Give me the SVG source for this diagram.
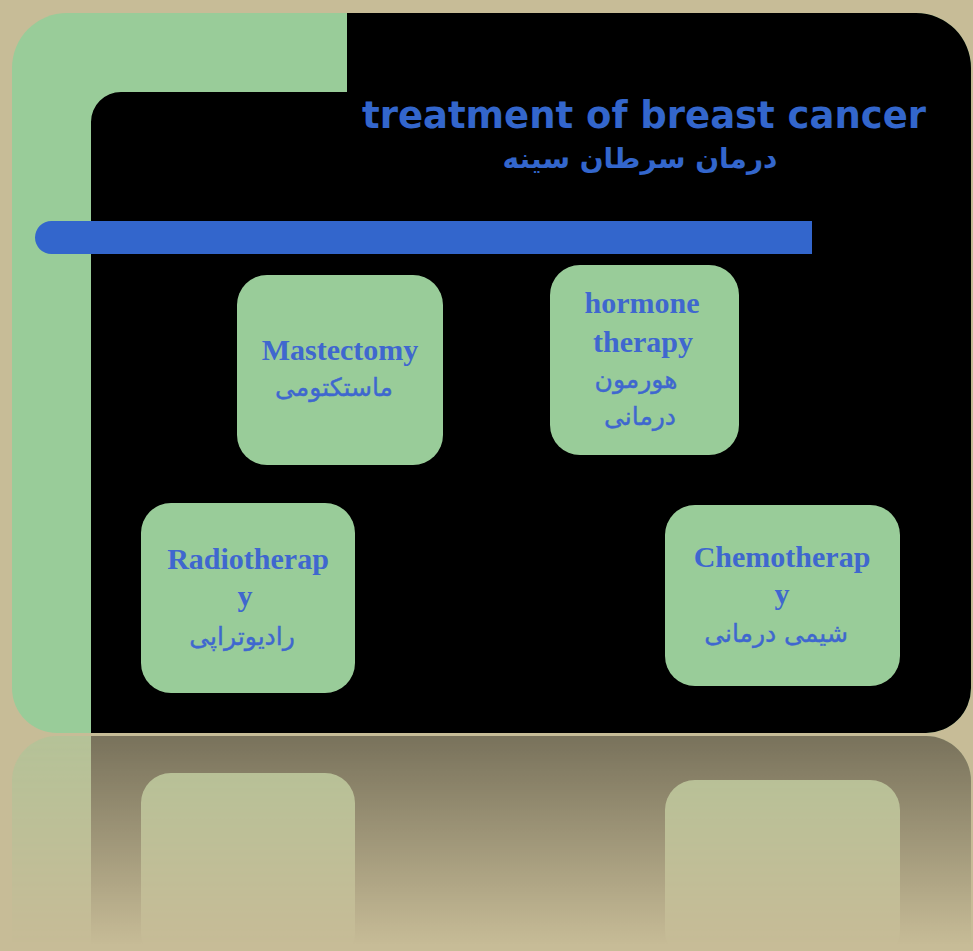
<svg xmlns="http://www.w3.org/2000/svg" width="973" height="951" viewBox="0 0 973 951">
<style>
.green{fill:#99cc99}
.black{fill:#000}
.box{fill:#99cc99}
.en{font-family:"Liberation Serif","Times New Roman",serif;font-weight:bold;font-size:30px;fill:#3f67cf;text-anchor:middle}
.fa{font-family:"DejaVu Sans","Noto Sans",sans-serif;font-size:25px;fill:#3f67cf;text-anchor:middle;stroke:#3f67cf;stroke-width:0.4}
.title{font-family:"DejaVu Sans","Liberation Sans",sans-serif;font-weight:bold;fill:#3366cc}
</style>
<defs>
<linearGradient id="fade" gradientUnits="userSpaceOnUse" x1="0" y1="733" x2="0" y2="945">
<stop offset="0" stop-color="#fff" stop-opacity="0.4"/>
<stop offset="0.5" stop-color="#fff" stop-opacity="0.2"/>
<stop offset="1" stop-color="#fff" stop-opacity="0"/>
</linearGradient>
<mask id="reflMask" maskUnits="userSpaceOnUse" x="0" y="733" width="973" height="218">
<rect x="0" y="733" width="973" height="218" fill="url(#fade)"/>
</mask>
</defs>
<rect x="0" y="0" width="973" height="951" fill="#c7bc97"/>
<g id="reflection" mask="url(#reflMask)">
<path class="green" d="M57 736 H926 A45 45 0 0 1 971 781 V951 H12 V781 A45 45 0 0 1 57 736 Z"/>
<path class="black" d="M91 736 H926 A45 45 0 0 1 971 781 V951 H91 Z"/>
<rect class="box" x="141" y="773" width="214" height="190" rx="30"/>
<rect class="box" x="665" y="780" width="235" height="181" rx="30"/>
</g>
<g id="slide">
<path class="green" d="M67 13 H916 A55 55 0 0 1 971 68 V688 A45 45 0 0 1 926 733 H57 A45 45 0 0 1 12 688 V68 A55 55 0 0 1 67 13 Z"/>
<path class="black" d="M347 13 H916 A55 55 0 0 1 971 68 V688 A45 45 0 0 1 926 733 H91 V122 A30 30 0 0 1 121 92 H347 Z"/>
<path fill="#3366cc" d="M51.5 221 H812 V254 H51.5 A16.5 16.5 0 0 1 51.5 221 Z"/>
</g>
<g id="title">
<text class="title" x="362" y="128" font-size="37" textLength="564" lengthAdjust="spacingAndGlyphs">treatment of breast cancer</text>
<text class="title" x="640" y="168" font-size="28" text-anchor="middle">درمان سرطان سینه</text>
</g>
<g id="mastectomy">
<rect class="box" x="237" y="275" width="206" height="190" rx="30"/>
<text class="en" x="340" y="360" font-size="32">Mastectomy</text>
<text class="fa" x="334" y="396" font-size="27">ماستکتومی</text>
</g>
<g id="hormone">
<rect class="box" x="550" y="265" width="189" height="190" rx="30"/>
<text class="en" x="642" y="313">hormone</text>
<text class="en" x="643" y="352">therapy</text>
<text class="fa" x="636" y="388" font-size="27">هورمون</text>
<text class="fa" x="640" y="425" font-size="26">درمانی</text>
</g>
<g id="radiotherapy">
<rect class="box" x="141" y="503" width="214" height="190" rx="30"/>
<text class="en" x="248" y="569">Radiotherap</text>
<text class="en" x="245" y="606">y</text>
<text class="fa" x="242" y="645" font-size="28">رادیوتراپی</text>
</g>
<g id="chemotherapy">
<rect class="box" x="665" y="505" width="235" height="181" rx="30"/>
<text class="en" x="782" y="567">Chemotherap</text>
<text class="en" x="782" y="604">y</text>
<text class="fa" x="776" y="642" font-size="26">شیمی درمانی</text>
</g>
<g id="connectors"/>
</svg>
